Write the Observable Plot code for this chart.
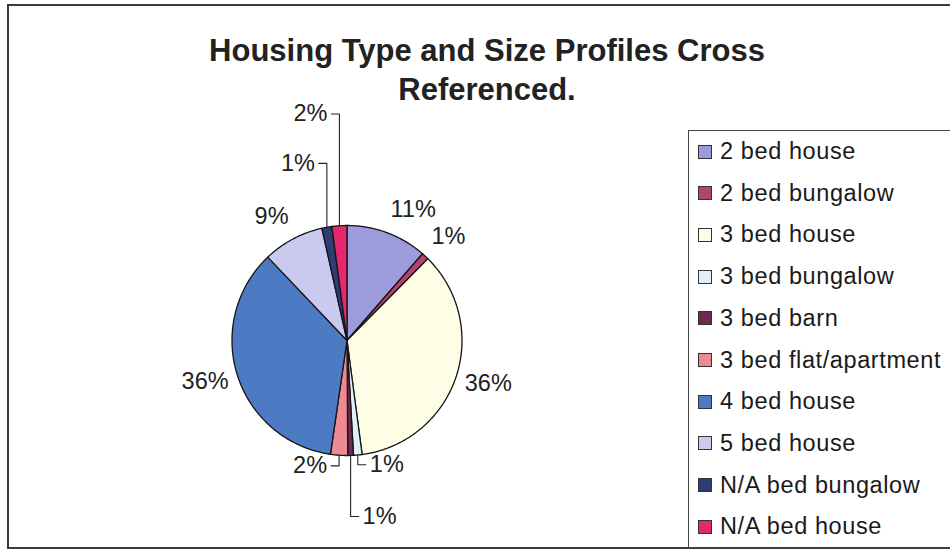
<!DOCTYPE html>
<html>
<head>
<meta charset="utf-8">
<script src="https://cdn.jsdelivr.net/npm/d3@7"></script>
<script src="https://cdn.jsdelivr.net/npm/@observablehq/plot@0.6"></script>
<style>
html, body { margin: 0; padding: 0; background: #fff; overflow: hidden; width: 950px; height: 551px; }
#wrap { position: relative; width: 950px; height: 551px; font-family: "Liberation Sans", Arial, sans-serif; color: #222; overflow: hidden; }
#frame { position: absolute; left: 7px; top: 4px; width: 980px; height: 545px; border: 2px solid #3a3a3a; box-sizing: border-box; }
#chart { position: absolute; left: 0; top: 0; }
#title { position: absolute; left: 0; width: 974px; top: 31px; text-align: center; font-weight: bold; font-size: 31px; line-height: 39px; color: #222; }
#legend { position: absolute; left: 688px; top: 130px; width: 280px; height: 418px; border: 1.5px solid #444; box-sizing: border-box; }
.item { position: absolute; left: 9px; height: 30px; display: flex; align-items: center; font-size: 23.5px; letter-spacing: 0.6px; white-space: nowrap; color: #1a1a1a; }
.sw { width: 12px; height: 12px; border: 1px solid #333; margin-right: 8px; flex: none; }
</style>
</head>
<body>
<div id="wrap">
  <div id="frame"></div>
  <div id="chart"></div>
  <div id="title">Housing Type and Size Profiles Cross<br>Referenced.</div>
  <div id="legend"></div>
</div>
<script>
// ---- data ----
const categories = ["2 bed house", "2 bed bungalow", "3 bed house", "3 bed bungalow", "3 bed barn",
  "3 bed flat/apartment", "4 bed house", "5 bed house", "N/A bed bungalow", "N/A bed house"];
const shares = [11.4, 1.0, 35.5, 1.2, 0.8, 2.4, 35.6, 8.6, 1.4, 2.1];
const colors = ["#9c9cdc", "#b3446f", "#fefde6", "#e0eff9", "#6e2a50", "#ef8a94", "#4c7ac3", "#cacaf0", "#2f3d72", "#e5286e"];
// labels moved away from the pie with a leader line: [category, label level (radii), side]
const leaderLabels = [
  ["3 bed bungalow", -1.08, 1],
  ["3 bed barn", -1.53, 1],
  ["3 bed flat/apartment", -1.09, -1],
  ["N/A bed bungalow", 1.54, -1],
  ["N/A bed house", 1.97, -1]
];

// ---- layout ----
const W = 950, H = 551, R = 115, CX = 346.5, CY = 340;
const total = d3.sum(shares);
const pie = d3.pie().sort(null).value(d => d.value)(categories.map((c, i) => ({name: c, value: shares[i]})));

// slice polygons in radius units (y up)
const slicePts = [];
for (const a of pie) {
  const name = a.data.name;
  slicePts.push({name, x: 0, y: 0});
  const n = Math.max(2, Math.ceil((a.endAngle - a.startAngle) / (Math.PI / 360)));
  for (let k = 0; k <= n; k++) {
    const t = a.startAngle + (a.endAngle - a.startAngle) * k / n;
    slicePts.push({name, x: Math.sin(t), y: Math.cos(t)});
  }
  slicePts.push({name, x: 0, y: 0});
}

const fmt = v => Math.round(v / total * 100) + "%";
const leaderMap = new Map(leaderLabels.map(d => [d[0], d]));
const labels = [], leaders = [];
const hLen = 8 / R, gap = 4 / R;
for (const a of pie) {
  const name = a.data.name, mid = (a.startAngle + a.endAngle) / 2;
  const s = Math.sin(mid), c = Math.cos(mid);
  if (leaderMap.has(name)) {
    const [, level, side] = leaderMap.get(name);
    const ex = s, ey = c;
    const hx = ex + side * hLen;
    leaders.push({name, x: ex, y: ey}, {name, x: ex, y: level}, {name, x: hx, y: level});
    labels.push({text: fmt(a.value), x: hx + side * gap, y: level, anchor: side > 0 ? "start" : "end", line: "middle"});
  } else {
    const line = c > 0.5 ? "bottom" : c < -0.5 ? "top" : "middle";
    const k = line === "bottom" ? 1.08 + 8 / R : 1.08;
    labels.push({
      text: fmt(a.value), x: s * 1.08, y: c * k - (line === "middle" ? 3 / R : 0),
      anchor: s > 0.1 ? "start" : s < -0.1 ? "end" : "middle",
      line
    });
  }
}

const textMarks = [];
for (const anchor of ["start", "middle", "end"]) {
  for (const line of ["top", "middle", "bottom"]) {
    const sub = labels.filter(d => d.anchor === anchor && d.line === line);
    if (sub.length) textMarks.push(Plot.text(sub, {
      x: "x", y: "y", text: "text", textAnchor: anchor, lineAnchor: line,
      fontSize: 23.5, fill: "#222", fontFamily: "Liberation Sans, Arial, sans-serif"
    }));
  }
}

const chart = Plot.plot({
  width: W, height: H,
  marginTop: 0, marginBottom: 0, marginLeft: 0, marginRight: 0,
  x: {domain: [(0 - CX) / R, (W - CX) / R], axis: null},
  y: {domain: [(CY - H) / R, CY / R], axis: null},
  color: {type: "ordinal", domain: categories, range: colors},
  style: {background: "transparent"},
  marks: [
    Plot.line(slicePts, {x: "x", y: "y", z: "name", fill: "name", stroke: "#151515", strokeWidth: 1.3, strokeLinejoin: "round", curve: "linear"}),
    Plot.line(leaders, {x: "x", y: "y", z: "name", stroke: "#222", strokeWidth: 1.1}),
    ...textMarks
  ]
});
document.getElementById("chart").appendChild(chart);

// ---- legend ----
const legend = document.getElementById("legend");
categories.forEach((c, i) => {
  const row = document.createElement("div");
  row.className = "item";
  row.style.top = (22 - 15 - 1.5 + i * 41.7) + "px";
  const sw = document.createElement("span");
  sw.className = "sw";
  sw.style.background = colors[i];
  const tx = document.createElement("span");
  tx.textContent = c;
  row.appendChild(sw);
  row.appendChild(tx);
  legend.appendChild(row);
});
</script>
</body>
</html>
